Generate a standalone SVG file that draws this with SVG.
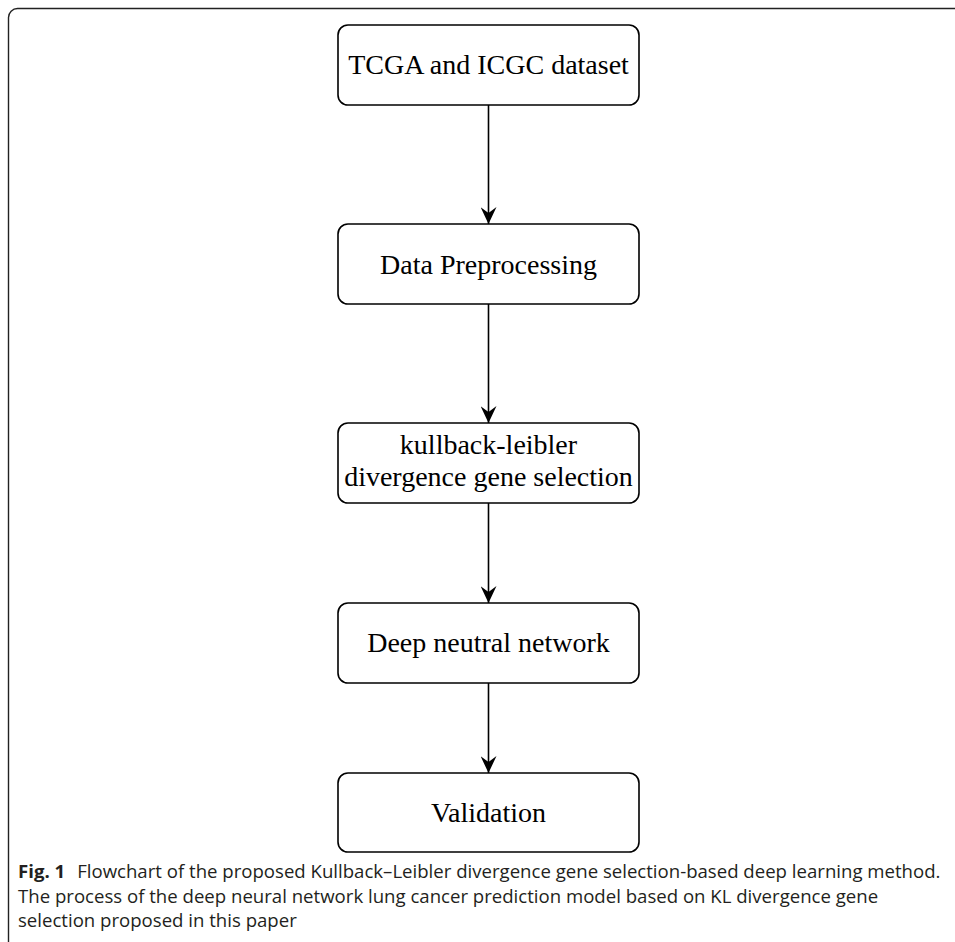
<svg xmlns="http://www.w3.org/2000/svg" width="955" height="942" viewBox="0 0 955 942">
<defs>
<style>
.box{fill:#fff;stroke:#000;stroke-width:1.6}
.lbl{font-family:"Liberation Serif","Times New Roman",serif;font-size:28px;fill:#000;text-anchor:middle}
.edge{stroke:#000;stroke-width:1.6;fill:none}
.cap{font-family:"Open Sans","Noto Sans",sans-serif;font-size:18.6px;fill:#231f20}
</style>
<marker id="arr" viewBox="0 0 17 16" markerWidth="17" markerHeight="16" refX="17" refY="8" orient="auto" markerUnits="userSpaceOnUse">
<path d="M0,0 L17,8 L0,16 L6,8 Z" fill="#000"/>
</marker>
</defs>
<rect x="8.5" y="8.5" width="970" height="960" rx="9" fill="#fff" stroke="#222" stroke-width="1.4"/>
<g id="connectors">
<line class="edge" x1="488.5" y1="105" x2="488.5" y2="224" marker-end="url(#arr)"/>
<line class="edge" x1="488.5" y1="304" x2="488.5" y2="423" marker-end="url(#arr)"/>
<line class="edge" x1="488.5" y1="503" x2="488.5" y2="603" marker-end="url(#arr)"/>
<line class="edge" x1="488.5" y1="683" x2="488.5" y2="773" marker-end="url(#arr)"/>
</g>
<g id="n1">
<rect class="box" x="338" y="25" width="301" height="80" rx="10"/>
<text class="lbl" x="488.5" y="74">TCGA and ICGC dataset</text>
</g>
<g id="n2">
<rect class="box" x="338" y="224" width="301" height="80" rx="10"/>
<text class="lbl" x="488.5" y="274">Data Preprocessing</text>
</g>
<g id="n3">
<rect class="box" x="338" y="423" width="301" height="80" rx="10"/>
<text class="lbl" x="488.5" y="454">kullback-leibler</text>
<text class="lbl" x="488.5" y="486">divergence gene selection</text>
</g>
<g id="n4">
<rect class="box" x="338" y="603" width="301" height="80" rx="10"/>
<text class="lbl" x="488.5" y="652">Deep neutral network</text>
</g>
<g id="n5">
<rect class="box" x="338" y="773" width="301" height="79" rx="10"/>
<text class="lbl" x="488.5" y="822">Validation</text>
</g>
<g id="caption">
<text class="cap" x="18" y="878"><tspan font-weight="bold">Fig. 1</tspan><tspan dx="12">Flowchart of the proposed Kullback–Leibler divergence gene selection-based deep learning method.</tspan></text>
<text class="cap" x="18" y="903">The process of the deep neural network lung cancer prediction model based on KL divergence gene</text>
<text class="cap" x="18" y="927">selection proposed in this paper</text>
</g>
</svg>
